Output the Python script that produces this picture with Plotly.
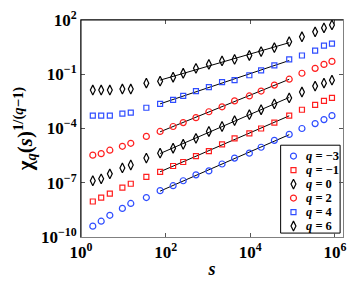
import numpy as np
import plotly.graph_objects as go

# window sizes s
s = [1.9, 3.0, 4.8, 9.5, 15, 35, 74, 150, 260, 520, 1050, 2150, 4250, 9500,
     18000, 37000, 83000, 166000, 340000, 550000, 850000]

q_labels = ["q = −3", "q = −1", "q = 0", "q = 2", "q = 4", "q = 6"]

chi_qm3 = [3.98e-10, 7.46e-10, 1.58e-9, 3.82e-9, 7.16e-9, 1.52e-8, 3.66e-8, 6.85e-8, 1.29e-7,
           2.73e-7, 4.52e-7, 1.09e-6, 2.31e-6, 4.33e-6, 9.20e-6, 2.21e-5, 4.71e-5, 1.00e-4,
           1.87e-4, 3.10e-4, 5.12e-4]
chi_qm1 = [9.20e-9, 1.52e-8, 2.51e-8, 5.33e-8, 8.81e-8, 2.12e-7, 3.98e-7, 8.45e-7, 1.40e-6,
           2.97e-6, 5.56e-6, 1.34e-5, 2.85e-5, 5.33e-5, 1.00e-4, 2.12e-4, 5.12e-4, 1.09e-3,
           2.04e-3, 3.37e-3, 4.91e-3]
chi_q0 = [1.29e-7, 1.65e-7, 3.10e-7, 6.58e-7, 9.59e-7, 2.31e-6, 4.33e-6, 8.11e-6, 1.34e-5,
          2.85e-5, 6.85e-5, 1.29e-4, 2.73e-4, 5.81e-4, 1.09e-3, 2.31e-3, 4.91e-3, 1.04e-2,
          2.21e-2, 3.23e-2, 4.71e-2]
chi_q2 = [3.37e-6, 4.06e-6, 6.31e-6, 1.04e-5, 1.52e-5, 3.66e-5, 6.85e-5, 1.29e-4, 2.12e-4,
          3.98e-4, 8.45e-4, 1.58e-3, 3.37e-3, 6.31e-3, 1.18e-2, 2.51e-2, 5.33e-2, 0.1135,
          0.212, 0.351, 0.512]
chi_q4 = [5.12e-4, 5.12e-4, 5.12e-4, 6.58e-4, 7.46e-4, 1.40e-3, 2.31e-3, 3.82e-3, 6.31e-3,
          1.18e-2, 1.95e-2, 3.66e-2, 4.71e-2, 8.81e-2, 0.165, 0.310, 0.658, 1.09,
          2.04, 3.82, 4.91]
chi_q6 = [1.34e-2, 1.34e-2, 1.34e-2, 1.52e-2, 1.52e-2, 3.23e-2, 4.15e-2, 6.85e-2, 0.1135,
          0.212, 0.351, 0.545, 0.658, 1.09, 1.80, 2.97, 6.31, 11.8,
          22.1, 36.6, 53.3]

series = [chi_qm3, chi_qm1, chi_q0, chi_q2, chi_q4, chi_q6]
symbols = ["circle-open", "square-open", "diamond-tall-open", "circle-open", "square-open", "diamond-tall-open"]
sizes = [6, 5, 7, 6, 5, 7]
colors = ["#2f4dff", "#ff1f1f", "#000000", "#ff1f1f", "#2f4dff", "#000000"]

fit_lo, fit_hi = 6, 16  # indices of the fitted scaling range

x_ticks = [1, 1e2, 1e4, 1e6]
x_ticktext = ["<b>10<sup>0</sup></b>", "<b>10<sup>2</sup></b>", "<b>10<sup>4</sup></b>", "<b>10<sup>6</sup></b>"]
y_ticks = [1e-10, 1e-7, 1e-4, 1e-1, 1e2]
y_ticktext = ["<b>10<sup>−10</sup></b>", "<b>10<sup>−7</sup></b>", "<b>10<sup>−4</sup></b>",
              "<b>10<sup>−1</sup></b>", "<b>10<sup>2</sup></b>"]

XR = [0, 6.19]    # log10 range of x axis
YR = [-10, 2]     # log10 range of y axis


def px(fx):  # plot-area fraction -> x data value
    return 10 ** (XR[0] + fx * (XR[1] - XR[0]))


def py(fy):  # plot-area fraction -> y data value
    return 10 ** (YR[0] + fy * (YR[1] - YR[0]))


fig = go.Figure()

# fit lines
for ys in series:
    xs = np.log10(s[fit_lo:fit_hi + 1])
    yl = np.log10(ys[fit_lo:fit_hi + 1])
    k, b = np.polyfit(xs, yl, 1)
    xe = np.array([xs[0], xs[-1]])
    fig.add_trace(go.Scatter(x=10 ** xe, y=10 ** (k * xe + b), mode="lines",
                             line=dict(color="black", width=1), showlegend=False,
                             hoverinfo="skip"))

for ys, sym, sz, col in zip(series, symbols, sizes, colors):
    fig.add_trace(go.Scatter(x=s, y=ys, mode="markers", showlegend=False,
                             marker=dict(symbol=sym, size=sz, color=col,
                                         line=dict(color=col, width=1.2))))

# ---- compact legend box (positions as fractions of the plot area) ----
LG_X0, LG_X1, LG_Y0, LG_Y1 = 0.762, 0.989, 0.018, 0.423
LG_ROW0, LG_STEP = 0.373, 0.0645
LG_MX, LG_TX = 0.811, 0.853
fig.add_trace(go.Scatter(x=[px(LG_X0), px(LG_X1), px(LG_X1), px(LG_X0), px(LG_X0)],
                         y=[py(LG_Y0), py(LG_Y0), py(LG_Y1), py(LG_Y1), py(LG_Y0)],
                         mode="lines", fill="toself",
                         fillcolor="white", line=dict(color="black", width=1),
                         showlegend=False, hoverinfo="skip"))
for i, (lab, sym, sz, col) in enumerate(zip(q_labels, symbols, sizes, colors)):
    ry = LG_ROW0 - i * LG_STEP
    fig.add_trace(go.Scatter(x=[px(LG_MX)], y=[py(ry)], mode="markers",
                             marker=dict(symbol=sym, size=sz, color=col,
                                         line=dict(color=col, width=1.2)),
                             showlegend=False, hoverinfo="skip"))
    rest = lab.split(" ", 1)[1]
    fig.add_annotation(x=LG_TX, y=ry, xref="paper", yref="paper", xanchor="left", yanchor="middle",
                       text="<b><i>q</i> " + rest + "</b>", showarrow=False,
                       font=dict(family="Liberation Serif", size=12.5, color="black"))

tickfont = dict(family="Liberation Serif", size=17, color="black")
fig.update_xaxes(type="log", range=XR, tickvals=x_ticks, ticktext=x_ticktext,
                 ticks="inside", ticklen=4, tickcolor="#555", showgrid=False, zeroline=False,
                 showline=True, linecolor="#808080", linewidth=1, mirror="ticks",
                 tickfont=tickfont,
                 title=dict(text="<b><i>s</i></b>", font=dict(family="Liberation Serif", size=18, color="black"),
                            standoff=0))
fig.update_yaxes(type="log", range=YR, tickvals=y_ticks, ticktext=y_ticktext,
                 ticks="inside", ticklen=4, tickcolor="#555", showgrid=False, zeroline=False,
                 showline=True, linecolor="#808080", linewidth=1, mirror="ticks",
                 tickfont=tickfont,
                 title=dict(text="<b>χ<sub><i>q</i></sub>(<i>s</i>)<sup>1/(<i>q</i>−1)</sup></b>",
                            font=dict(family="Liberation Serif", size=21, color="black"),
                            standoff=2))

# black top and left frame edges
fig.add_shape(type="line", xref="paper", yref="paper", x0=0, x1=1, y0=1, y1=1,
              line=dict(color="black", width=1), layer="above")
fig.add_shape(type="line", xref="paper", yref="paper", x0=0, x1=0, y0=0, y1=1,
              line=dict(color="black", width=1), layer="above")

fig.update_layout(
    width=354, height=283,
    margin=dict(l=81, r=8, t=17, b=46),
    paper_bgcolor="white", plot_bgcolor="white",
    showlegend=False,
)

fig.write_html("out.html", config={"displayModeBar": False},
               post_script="document.body.style.margin='0';document.body.style.padding='0';"
                           "document.body.style.overflow='hidden';")
